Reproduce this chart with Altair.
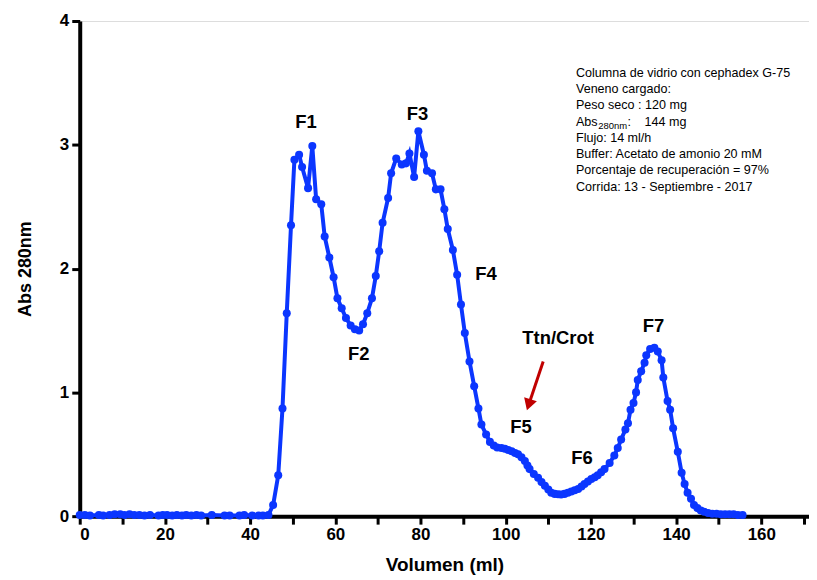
import altair as alt
import pandas as pd

# Elution profile: volume (ml) and absorbance at 280 nm
volume = [0, 1.2, 2.4, 4.5, 5.5, 7, 8.2, 9.5, 10.5, 11.7, 12.8, 14, 15.2, 16.5, 18.5, 19.5, 20.5,
          21.7, 22.8, 24, 25, 26.2, 27.4, 28.5, 31, 34, 35.2, 37.5, 38.6, 40.5, 42, 43, 44.3,
          45.4, 46.6, 47.6, 48.6, 49.6, 50.4, 51.5, 52.2, 53.6, 54.6, 55.5, 56.7, 57.5, 58.6,
          59.6, 60.5, 61.5, 62.5, 63.6, 64.6, 65.6, 66.5, 67.5, 68.6, 69.5, 70.3, 71.1, 72.4,
          73.1, 74.3, 75.6, 76.6, 77.4, 78.5, 79.5, 80.8, 81.5, 82.7, 83.6, 84.7, 85.6, 86.4,
          87.6, 88.6, 89.5, 90.4, 91.5, 92.6, 93.6, 94.3, 95.4, 96.3, 97.2, 98.0, 99.0, 99.8,
          100.6, 101.4, 102.2, 102.9, 103.7, 104.5, 105.1, 105.6, 106.6, 107.6, 108.4, 109.2,
          110.0, 110.7, 111.5, 112.3, 113.0, 113.8, 114.6, 115.4, 116.2, 117.0, 117.8, 118.5,
          119.3, 120.1, 120.9, 121.6, 122.4, 123.2, 124.4, 125.5, 126.3, 127.1, 128.1, 128.7,
          129.3, 130.0, 130.6, 131.0, 131.8, 132.6, 133.0, 133.9, 134.9, 135.7, 136.6, 137.0,
          138.0, 138.6, 139.3, 140.4, 141.3, 142.0, 142.7, 143.5, 144.2, 145.0, 145.8, 146.6,
          147.5, 148.5, 149.5, 150.5, 151.5, 152.5, 153.5, 154.5, 155.6]
absorbance = [0.01, 0.01, 0.005, 0.01, 0.005, 0.01, 0.015, 0.015, 0.01, 0.015, 0.01, 0.01, 0.005,
              0.01, 0.005, 0.01, 0.01, 0.005, 0.01, 0.005, 0.01, 0.005, 0.01, 0.005, 0.01, 0.005,
              0.005, 0.005, 0.01, 0.005, 0.005, 0.005, 0.01,
              0.09, 0.33, 0.87, 1.64, 2.35, 2.88, 2.92, 2.82, 2.65, 2.99, 2.56, 2.52, 2.26, 2.09,
              1.93, 1.76, 1.68, 1.60, 1.54, 1.51, 1.50, 1.55, 1.64, 1.76, 1.94, 2.14, 2.37, 2.57,
              2.77, 2.89, 2.84, 2.85, 2.93, 2.74, 3.11, 2.92, 2.79, 2.77, 2.64, 2.64, 2.48, 2.32,
              2.15, 1.95, 1.71, 1.48, 1.25, 1.05, 0.87, 0.74, 0.66, 0.60, 0.57, 0.555, 0.55, 0.545,
              0.535, 0.525, 0.51, 0.50, 0.475, 0.445, 0.41, 0.38, 0.34, 0.31, 0.275, 0.245,
              0.215, 0.19, 0.18, 0.177, 0.175, 0.18, 0.19, 0.20, 0.21, 0.22, 0.24, 0.26,
              0.28, 0.30, 0.315, 0.33, 0.355, 0.38, 0.43, 0.49, 0.55, 0.62, 0.70, 0.75,
              0.86, 0.915, 1.0, 1.10, 1.17, 1.24, 1.30, 1.35, 1.36, 1.33, 1.26, 1.12,
              0.93, 0.86, 0.71, 0.52, 0.35, 0.26, 0.19, 0.14, 0.09, 0.065, 0.045, 0.035,
              0.025, 0.02, 0.02, 0.015, 0.015, 0.015, 0.015, 0.01, 0.01]

# Peak labels
peak_labels = ["F1", "F2", "F3", "F4", "F5", "F6", "F7", "Ttn/Crot"]
peak_x = [53.1, 65.5, 79.3, 95.4, 103.6, 117.9, 134.7, 112.3]
peak_y = [3.18, 1.31, 3.25, 1.96, 0.72, 0.47, 1.54, 1.44]

# Arrow (start -> tip)
arrow_x, arrow_y = [108.8], [1.25]
arrow_x2, arrow_y2 = [105.4], [0.90]

# Info block
info_lines = ["Columna de vidrio con cephadex G-75", "Veneno cargado:", "Peso seco : 120 mg",
              "Abs", "Flujo: 14 ml/h", "Buffer: Acetato de amonio 20 mM",
              "Porcentaje de recuperación = 97%", "Corrida: 13 - Septiembre - 2017"]
info_x = 116.5
info_y_top = 3.58
info_step = 0.131

BLUE = "#0B36FF"
FONT = "Liberation Sans"

df = pd.DataFrame({"v": volume, "a": absorbance})
xs = alt.Scale(domain=[0, 171.2], nice=False, zero=False)
ys = alt.Scale(domain=[0, 4], nice=False)

x_axis = alt.Axis(values=list(range(0, 171, 5)),
                  labelExpr="datum.value % 20 == 0 ? datum.label : ''",
                  title="Volumen (ml)", grid=False, tickSize=8, tickWidth=3, tickColor="black",
                  domainWidth=4, domainColor="black", labelFont=FONT, labelFontSize=17,
                  labelFontWeight="bold", labelColor="black", labelPadding=2, titleFont=FONT,
                  titleFontSize=19, titleFontWeight="bold", titleColor="black", titlePadding=14)
y_axis = alt.Axis(values=[0, 1, 2, 3, 4], format="d", title="Abs 280nm", grid=False, tickSize=8,
                  tickWidth=3, tickColor="black", domainWidth=4, domainColor="black",
                  labelFont=FONT, labelFontSize=17, labelFontWeight="bold", labelColor="black",
                  labelPadding=3, titleFont=FONT, titleFontSize=18, titleFontWeight="bold",
                  titleColor="black", titlePadding=25)

line = alt.Chart(df).mark_line(color=BLUE, strokeWidth=4,
                               point=alt.OverlayMarkDef(filled=True, size=65, color=BLUE, opacity=1)
                               ).encode(
    x=alt.X("v:Q", scale=xs, axis=x_axis),
    y=alt.Y("a:Q", scale=ys, axis=y_axis),
)

lab_df = pd.DataFrame({"t": peak_labels, "x": peak_x, "y": peak_y})
labels = alt.Chart(lab_df).mark_text(font=FONT, fontSize=18.5, fontWeight="bold", color="black",
                                     align="center", baseline="middle").encode(
    x=alt.X("x:Q", scale=xs), y=alt.Y("y:Q", scale=ys), text="t:N")

arr_df = pd.DataFrame({"x": arrow_x, "y": arrow_y, "x2": arrow_x2, "y2": arrow_y2})
arrow_line = alt.Chart(arr_df).mark_rule(color="#C00000", strokeWidth=3).encode(
    x=alt.X("x:Q", scale=xs), y=alt.Y("y:Q", scale=ys), x2="x2:Q", y2="y2:Q")
head_df = pd.DataFrame({"x": arrow_x2, "y": arrow_y2})
arrow_head = alt.Chart(head_df).mark_point(shape="triangle-down", filled=True, size=180,
                                           color="#C00000", opacity=1, angle=18).encode(
    x=alt.X("x:Q", scale=xs), y=alt.Y("y:Q", scale=ys))

info_df = pd.DataFrame({"t": info_lines, "x": [info_x] * len(info_lines),
                        "y": [info_y_top - i * info_step for i in range(len(info_lines))]})
info = alt.Chart(info_df).mark_text(font=FONT, fontSize=12.6, color="black", align="left",
                                    baseline="middle").encode(
    x=alt.X("x:Q", scale=xs), y=alt.Y("y:Q", scale=ys), text="t:N")

abs_y = info_y_top - 3 * info_step
sub_df = pd.DataFrame({"t": ["280nm"], "x": [121.7], "y": [abs_y - 0.035]})
sub = alt.Chart(sub_df).mark_text(font=FONT, fontSize=9.5, color="black", align="left",
                                  baseline="middle").encode(
    x=alt.X("x:Q", scale=xs), y=alt.Y("y:Q", scale=ys), text="t:N")
rest_df = pd.DataFrame({"t": [":", "144 mg"], "x": [128.6, 132.6], "y": [abs_y, abs_y]})
rest = alt.Chart(rest_df).mark_text(font=FONT, fontSize=12.6, color="black", align="left",
                                    baseline="middle").encode(
    x=alt.X("x:Q", scale=xs), y=alt.Y("y:Q", scale=ys), text="t:N")

chart = alt.layer(line, labels, arrow_line, arrow_head, info, sub, rest).properties(
    width=732, height=497,
    autosize=alt.AutoSizeParams(type="none"),
    padding={"left": 72, "top": 12, "right": 0, "bottom": 60},
).configure_view(stroke=None).configure(background="white")

chart.save("out.html", embed_options={"renderer": "svg", "actions": False})
